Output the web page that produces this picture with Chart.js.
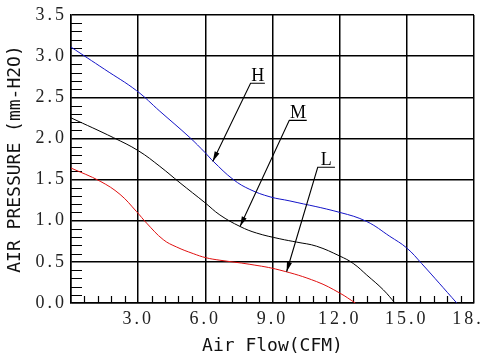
<!DOCTYPE html>
<html><head><meta charset="utf-8">
<script src="https://cdn.jsdelivr.net/npm/chart.js@4.4.1/dist/chart.umd.min.js"></script>
<style>html,body{margin:0;padding:0;background:#fff}canvas{display:block}</style>
</head><body>
<canvas id="c" width="483" height="358"></canvas>
<script>
// ---- data ----
const highFlow     = [0, 1.5, 2.93, 3.97, 5.31, 5.98, 6.36, 7.25, 7.99, 8.89, 9.78, 12.02, 13.21, 14.24, 14.99, 15.66, 17.23];
const highPressure = [3.11, 2.84, 2.58, 2.33, 2.01, 1.83, 1.72, 1.50, 1.38, 1.29, 1.24, 1.10, 0.99, 0.81, 0.67, 0.48, 0.00];
const midFlow      = [0, 1.89, 3.01, 3.97, 4.87, 5.98, 6.65, 7.55, 8.29, 9.33, 10.08, 10.97, 12.01, 12.61, 13.21, 13.95, 14.47];
const midPressure  = [2.25, 2.01, 1.85, 1.66, 1.46, 1.22, 1.07, 0.93, 0.85, 0.78, 0.74, 0.69, 0.57, 0.48, 0.34, 0.16, 0.00];
const lowFlow      = [0, 1.30, 2.19, 2.93, 3.38, 4.12, 4.72, 5.46, 6.03, 6.65, 7.99, 9.33, 10.97, 12.01, 12.7];
const lowPressure  = [1.64, 1.48, 1.32, 1.11, 0.97, 0.77, 0.68, 0.60, 0.55, 0.52, 0.47, 0.40, 0.26, 0.12, 0.00];

const xTickValues = [0, 3, 6, 9, 12, 15, 18];
const xTickLabels = ['', '3.0', '6.0', '9.0', '12.0', '15.0', '18.0'];
const yTickValues = [0, 0.5, 1, 1.5, 2, 2.5, 3, 3.5];
const yTickLabels = ['0.0', '0.5', '1.0', '1.5', '2.0', '2.5', '3.0', '3.5'];

const curveNames = ['H', 'M', 'L'];
const noteLineStartX = [8.02, 9.75, 11.02];
const noteLineEndX   = [8.66, 10.53, 11.79];
const noteLineY      = [2.67, 2.22, 1.65];
const noteTipX       = [6.33, 7.55, 9.63];
const noteTipY       = [1.72, 0.93, 0.38];

const pts = (xs, ys) => xs.map((x, i) => ({x, y: ys[i]}));

const decor = {
  id: 'decor',
  beforeDatasetsDraw(chart) {
    const {ctx, chartArea: a, scales: {x, y}} = chart;
    ctx.save();
    ctx.strokeStyle = '#000';
    ctx.lineWidth = 1.2;
    ctx.beginPath();
    for (let i = 1; i < 35; i++) {
      if (i % 5 === 0) continue;
      const py = Math.round(y.getPixelForValue(i * 0.1)) + 0.5;
      ctx.moveTo(a.left, py); ctx.lineTo(a.left + 11, py);
    }
    for (let i = 1; i < 30; i++) {
      if (i % 5 === 0) continue;
      const px = Math.round(x.getPixelForValue(i * 0.6)) + 0.5;
      ctx.moveTo(px, a.bottom); ctx.lineTo(px, a.bottom - 7);
    }
    ctx.stroke();
    ctx.restore();
  },
  afterDatasetsDraw(chart) {
    const {ctx, scales: {x, y}} = chart;
    ctx.save();
    ctx.letterSpacing = '0px';
    ctx.strokeStyle = '#000';
    ctx.fillStyle = '#000';
    ctx.lineWidth = 1.1;
    ctx.font = '18px "Liberation Serif", serif';
    ctx.textAlign = 'center';
    ctx.textBaseline = 'alphabetic';
    curveNames.forEach((name, i) => {
      const x0 = x.getPixelForValue(noteLineStartX[i]);
      const x1 = x.getPixelForValue(noteLineEndX[i]);
      const yl = y.getPixelForValue(noteLineY[i]);
      const tx = x.getPixelForValue(noteTipX[i]);
      const ty = y.getPixelForValue(noteTipY[i]);
      ctx.beginPath();
      ctx.moveTo(x1, yl); ctx.lineTo(x0, yl); ctx.lineTo(tx, ty);
      ctx.stroke();
      const ang = Math.atan2(ty - yl, tx - x0);
      const L = 10, W = 2.6;
      const bx = tx - L * Math.cos(ang), by = ty - L * Math.sin(ang);
      ctx.beginPath();
      ctx.moveTo(tx, ty);
      ctx.lineTo(bx + W * Math.sin(ang), by - W * Math.cos(ang));
      ctx.lineTo(bx - W * Math.sin(ang), by + W * Math.cos(ang));
      ctx.closePath();
      ctx.fill();
      ctx.fillText(name, (x0 + x1) / 2, yl - 2);
    });
    ctx.restore();
    ctx.letterSpacing = '3px';
  },
  afterDraw(chart) { chart.ctx.letterSpacing = '0px'; }
};

const lineDs = (data, color) => ({
  data, borderColor: color, borderWidth: 1, pointRadius: 0,
  tension: 0.4, fill: false
});

new Chart(document.getElementById('c'), {
  type: 'line',
  data: { datasets: [
    lineDs(pts(highFlow, highPressure), '#1414c8'),
    lineDs(pts(midFlow, midPressure), '#000000'),
    lineDs(pts(lowFlow, lowPressure), '#e01010')
  ]},
  options: {
    responsive: false, animation: false, events: [],
    layout: { padding: { top: 15, right: 9, left: 0, bottom: 0 } },
    plugins: { legend: { display: false }, tooltip: { enabled: false } },
    scales: {
      x: {
        type: 'linear', min: 0, max: 18,
        afterBuildTicks: s => { s.ticks = xTickValues.map(v => ({value: v})); },
        afterFit: s => { s.height = 55; s.paddingLeft = 0; s.paddingRight = 0; },
        grid: { color: '#000', lineWidth: 1.5, drawTicks: false },
        border: { color: '#000', width: 1.5 },
        ticks: {
          z: 1, padding: 5, maxRotation: 0, autoSkip: false, color: '#222',
          font: { family: '"Liberation Serif", serif', size: 18 },
          callback: (v, i) => xTickLabels[i]
        },
        title: { display: true, text: 'Air Flow(CFM)', color: '#111',
          font: { family: '"DejaVu Sans Mono", monospace', size: 18 },
          padding: { top: 0, bottom: 1 } }
      },
      y: {
        type: 'linear', min: 0, max: 3.5,
        afterBuildTicks: s => { s.ticks = yTickValues.map(v => ({value: v})); },
        afterFit: s => { s.width = 71; s.paddingTop = 0; s.paddingBottom = 0; },
        grid: { color: '#000', lineWidth: 1.5, drawTicks: false },
        border: { color: '#000', width: 1.5 },
        ticks: {
          z: 1, padding: 4, color: '#222',
          font: { family: '"Liberation Serif", serif', size: 18 },
          callback: (v, i) => yTickLabels[i]
        },
        title: { display: true, text: 'AIR PRESSURE (mm-H2O)', color: '#111',
          font: { family: '"DejaVu Sans Mono", monospace', size: 18 },
          padding: { top: 5, bottom: 0 } }
      }
    }
  },
  plugins: [decor]
});
</script>
</body></html>
